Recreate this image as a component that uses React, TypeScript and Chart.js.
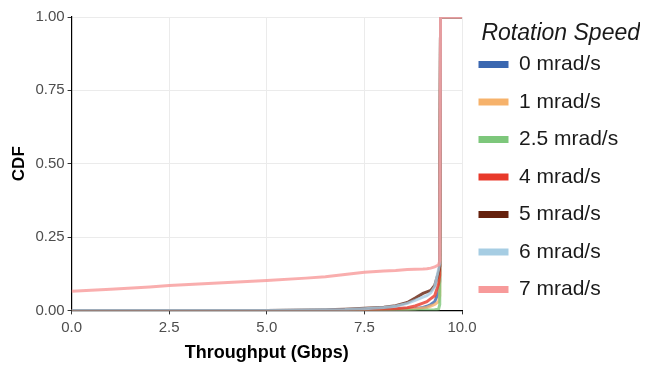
import React, { useEffect, useRef } from "react";
import { Chart, registerables } from "chart.js";

Chart.register(...registerables);

const throughput = [0, 1, 2, 2.5, 3, 4, 5, 6, 6.5, 7, 7.5, 8, 8.3, 8.6, 8.8, 9.0, 9.1, 9.2, 9.3, 9.4, 9.43, 9.45, 10];

const seriesNames = ["0 mrad/s", "1 mrad/s", "2.5 mrad/s", "4 mrad/s", "5 mrad/s", "6 mrad/s", "7 mrad/s"];
const seriesColors = ["#3a67b0", "#f6b26b", "#7dc77b", "#e8392a", "#65200c", "#a6cde3", "#f79a9a"];

const cdf0 = [0, 0, 0, 0, 0, 0, 0, 0, 0, 0.001, 0.002, 0.003, 0.004, 0.005, 0.006, 0.01, 0.014, 0.02, 0.03, 0.06, 0.1, 1, 1];
const cdf1 = [0, 0, 0, 0, 0, 0, 0, 0, 0, 0, 0, 0.001, 0.002, 0.003, 0.005, 0.008, 0.01, 0.015, 0.02, 0.03, 0.05, 1, 1];
const cdf25 = [0, 0, 0, 0, 0, 0, 0, 0, 0, 0, 0, 0, 0, 0, 0, 0, 0.001, 0.001, 0.002, 0.004, 0.02, 1, 1];
const cdf4 = [0, 0, 0, 0, 0, 0, 0, 0, 0, 0.001, 0.002, 0.004, 0.006, 0.009, 0.015, 0.025, 0.03, 0.04, 0.05, 0.09, 0.12, 1, 1];
const cdf5 = [0, 0, 0, 0, 0, 0, 0, 0.001, 0.002, 0.004, 0.007, 0.011, 0.016, 0.027, 0.042, 0.058, 0.063, 0.068, 0.085, 0.13, 0.15, 1, 1];
const cdf6 = [0, 0, 0, 0, 0, 0, 0, 0.001, 0.002, 0.003, 0.006, 0.01, 0.014, 0.024, 0.034, 0.045, 0.05, 0.06, 0.08, 0.14, 0.16, 1, 1];
const cdf7 = [0.065, 0.072, 0.08, 0.085, 0.088, 0.095, 0.102, 0.11, 0.115, 0.122, 0.13, 0.134, 0.136, 0.139, 0.14, 0.141, 0.142, 0.144, 0.148, 0.155, 0.17, 1, 1];

const seriesValues = [cdf0, cdf1, cdf25, cdf4, cdf5, cdf6, cdf7];

const xTicks = [0, 2.5, 5, 7.5, 10];
const yTicks = [0, 0.25, 0.5, 0.75, 1];

const FONT = "'Liberation Sans', Arial, Helvetica, sans-serif";

function withAlpha(hex: string, a: number) {
  const r = parseInt(hex.slice(1, 3), 16);
  const g = parseInt(hex.slice(3, 5), 16);
  const b = parseInt(hex.slice(5, 7), 16);
  return `rgba(${r},${g},${b},${a})`;
}

export default function App() {
  const ref = useRef<HTMLCanvasElement | null>(null);
  useEffect(() => {
    if (!ref.current) return;
    const datasets = seriesNames.map((name, i) => ({
      label: name,
      data: throughput.map((x, j) => ({ x, y: seriesValues[i][j] })),
      borderColor: withAlpha(seriesColors[i], 0.8),
      backgroundColor: seriesColors[i],
      borderWidth: 3,
      pointRadius: 0,
      fill: false,
      tension: 0,
      order: -i,
    }));
    const chart = new Chart(ref.current, {
      type: "line",
      data: { datasets },
      options: {
        animation: false,
        responsive: false,
        maintainAspectRatio: false,
        layout: { padding: { top: 17, right: 5, bottom: 3, left: 9 } },
        plugins: {
          tooltip: { enabled: false },
          legend: {
            position: "right",
            align: "start",
            title: {
              display: true,
              text: "Rotation Speed",
              color: "#1a1a1a",
              font: { family: FONT, size: 23, style: "italic", lineHeight: 1 },
              padding: { top: 5.5, bottom: -8 },
              position: "end",
            },
            labels: {
              boxWidth: 30,
              boxHeight: 7,
              padding: 16.5,
              color: "#1a1a1a",
              font: { family: FONT, size: 21 },
              generateLabels: (c: any) =>
                c.data.datasets.map((ds: any, i: number) => ({
                  text: ds.label,
                  fillStyle: seriesColors[i],
                  strokeStyle: seriesColors[i],
                  lineWidth: 0,
                  datasetIndex: i,
                  hidden: false,
                })),
            },
          },
        },
        scales: {
          x: {
            type: "linear",
            min: 0,
            max: 10,
            afterBuildTicks: (axis: any) => {
              axis.ticks = xTicks.map((v) => ({ value: v }));
            },
            ticks: {
              color: "#4d4d4d",
              font: { family: FONT, size: 15 },
              padding: 4,
              maxRotation: 0,
              callback: (v: any) => Number(v).toFixed(1),
            },
            grid: { color: "#ebebeb", lineWidth: 1, tickColor: "#333333", tickLength: 4 },
            border: { display: true, color: "#000000", width: 1.2 },
            title: {
              display: true,
              text: "Throughput (Gbps)",
              color: "#000000",
              font: { family: FONT, size: 18, weight: "bold" },
              padding: { top: 2, bottom: 0 },
            },
          },
          y: {
            type: "linear",
            min: 0,
            max: 1,
            afterBuildTicks: (axis: any) => {
              axis.ticks = yTicks.map((v) => ({ value: v }));
            },
            ticks: {
              color: "#4d4d4d",
              font: { family: FONT, size: 15 },
              padding: 3,
              callback: (v: any) => Number(v).toFixed(2),
            },
            grid: { color: "#ebebeb", lineWidth: 1, tickColor: "#333333", tickLength: 4 },
            border: { display: true, color: "#000000", width: 1.2 },
            title: {
              display: true,
              text: "CDF",
              color: "#000000",
              font: { family: FONT, size: 17, weight: "bold" },
              padding: { top: 0, bottom: 3 },
            },
          },
        },
      },
    });
    // widen the legend box so that the chart area ends where the reference's does
    const legend: any = (chart as any).legend;
    if (legend) {
      const origFit = legend.fit.bind(legend);
      legend.fit = function () {
        origFit();
        this.width = 645 - 5 - 462;
      };
      chart.update();
    }
    return () => chart.destroy();
  }, []);
  return (
    <div style={{ position: "fixed", left: 0, top: 0, width: 645, height: 367, background: "#ffffff" }}>
      <canvas ref={ref} width={645} height={367} style={{ width: 645, height: 367, display: "block" }} />
    </div>
  );
}
